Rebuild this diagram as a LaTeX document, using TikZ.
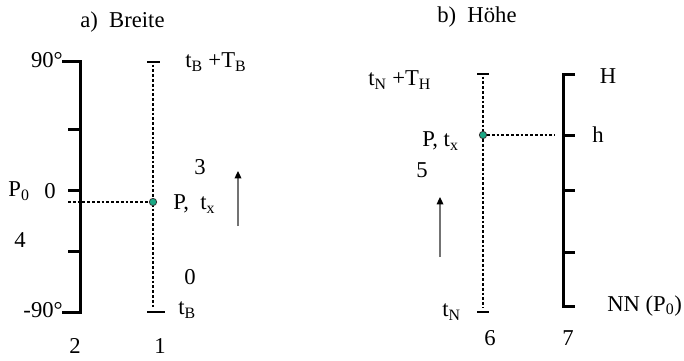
\documentclass[tikz,border=0pt]{standalone}
\usepackage{fontspec}
\setmainfont{Liberation Serif}
\usetikzlibrary{arrows.meta}
\definecolor{Punktgruen}{HTML}{1AA884}
\tikzset{
  achse/.style  = {line width=2.25pt, line join=miter},
  zeit/.style   = {line width=2.2pt, dash pattern=on 2.1pt off 1.5pt},
  strich/.style = {line width=1.9pt},
  lbl/.style    = {font=\fontsize{17}{20}\selectfont, inner sep=0pt},
  titel/.style  = {font=\fontsize{17}{20}\selectfont, inner sep=0pt},
  pfeil/.style  = {-{Triangle[length=5.5pt,width=5pt,color=black]}, line width=0.9pt, draw=black!55},
  punkt/.style  = {circle, draw=black!80, fill=Punktgruen, line width=0.6pt,
                   inner sep=0pt, minimum size=5.5pt},
}

\begin{document}
\begin{tikzpicture}[x=0.75pt, y=-0.75pt]
  \useasboundingbox (0,0) rectangle (684,360);
  % a) Breite
  \node[titel, anchor=west] (ta) at (80,22) {a)\ \ Breite};
  \coordinate (a2o) at (80,62);
  \coordinate (a2u) at (80,312);
  \coordinate (a1o) at (153,62);
  \coordinate (a1u) at (153,312);
  \coordinate (q0) at (68,202);
  \draw[achse] (62,62) -- (a2o) -- (a2u) -- (62,312);
  \foreach \y in {129,190,251}
    \draw[achse] (68,\y) -- (80,\y);
  \draw[zeit] ([yshift=-2]a1o) -- ([yshift=3]a1u);
  \draw[strich] (147,62) -- (160,62);
  \draw[strich] (147,312) -- (165,312);
  \node[punkt] (pa) at (153,202) {};
  \draw[zeit] (q0) -- (pa);
  \draw[pfeil] (238,226) -- (238,171);
  \node[lbl, anchor=east] (n90) at (63,60) {90°};
  \node[lbl, anchor=east] (m90) at (63,310) {-90°};
  \node[lbl] (nu) at (50,191) {0};
  \node[lbl] (p0) at (19,191) {P\textsubscript{0}};
  \node[lbl] (vier) at (20,240) {4};
  \node[lbl] (zwei) at (75,346) {2};
  \node[lbl] (eins) at (160,346) {1};
  \node[lbl, anchor=west] (tbT) at (185,62) {t\textsubscript{B} +T\textsubscript{B}};
  \node[lbl] (drei) at (200,167) {3};
  \node[lbl, anchor=west] (pta) at (173,204) {P,\ \ t\textsubscript{x}};
  \node[lbl] (nul) at (190,277) {0};
  \node[lbl, anchor=west] (tb) at (178,310) {t\textsubscript{B}};
  % b) Hoehe
  \node[titel, anchor=west] (tb2) at (437,17) {b)\ \ Höhe};
  \coordinate (a6o) at (483,74);
  \coordinate (a6u) at (483,312);
  \coordinate (a7o) at (563,74);
  \coordinate (a7u) at (563,306);
  \coordinate (q7) at (555,135);
  \draw[zeit] ([yshift=-2]a6o) -- ([yshift=3]a6u);
  \draw[strich] (477,74) -- (489,74);
  \draw[strich] (477,312) -- (489,312);
  \draw[achse] (575,74) -- (a7o) -- (a7u) -- (575,306);
  \foreach \y in {135,190,252}
    \draw[achse] (563,\y) -- (575,\y);
  \node[punkt] (pb) at (483,135) {};
  \draw[zeit] (pb) -- (q7);
  \draw[pfeil] (440,257) -- (440,197);
  \node[lbl, anchor=west] (tnT) at (368,80) {t\textsubscript{N} +T\textsubscript{H}};
  \node[lbl, anchor=west] (ptb) at (422,141) {P, t\textsubscript{x}};
  \node[lbl] (fuenf) at (422,170) {5};
  \node[lbl, anchor=west] (tn) at (442,312) {t\textsubscript{N}};
  \node[lbl] (sechs) at (490,338) {6};
  \node[lbl] (H) at (608,76) {H};
  \node[lbl] (h) at (598,135) {h};
  \node[lbl, anchor=west] (nn) at (607,306) {NN (P\textsubscript{0})};
  \node[lbl] (sieben) at (568,338) {7};
\end{tikzpicture}
\end{document}
